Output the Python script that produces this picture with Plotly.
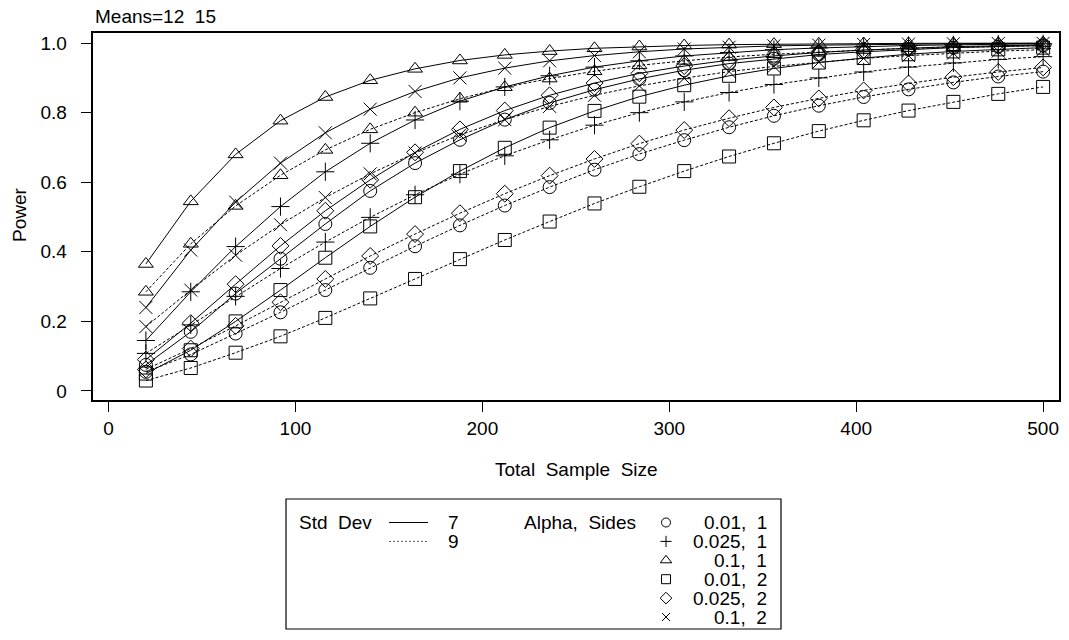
import plotly.graph_objects as go

# ---------------- data ----------------
sample_size = [20, 44, 68, 92, 116, 140, 164, 188, 212, 236, 260, 284, 308, 332, 356, 380, 404, 428, 452, 476, 500]

# Std Dev = 7 (solid)
sd7_a001_s1 = [0.075, 0.170, 0.280, 0.380, 0.480, 0.575, 0.655, 0.722, 0.780, 0.828, 0.866, 0.897, 0.922, 0.941, 0.955, 0.967, 0.975, 0.982, 0.987, 0.990, 0.993]
sd7_a0025_s1 = [0.145, 0.285, 0.415, 0.530, 0.630, 0.712, 0.779, 0.833, 0.874, 0.906, 0.931, 0.949, 0.963, 0.973, 0.981, 0.986, 0.990, 0.993, 0.995, 0.997, 0.998]
sd7_a01_s1 = [0.365, 0.545, 0.680, 0.777, 0.845, 0.893, 0.926, 0.950, 0.966, 0.977, 0.985, 0.990, 0.993, 0.9956, 0.997, 0.998, 0.9988, 0.9992, 0.9995, 0.9997, 0.9998]
sd7_a001_s2 = [0.050, 0.117, 0.200, 0.290, 0.383, 0.473, 0.557, 0.632, 0.699, 0.757, 0.805, 0.846, 0.879, 0.906, 0.927, 0.944, 0.957, 0.968, 0.976, 0.982, 0.987]
sd7_a0025_s2 = [0.090, 0.195, 0.307, 0.417, 0.518, 0.607, 0.686, 0.752, 0.806, 0.850, 0.885, 0.913, 0.934, 0.951, 0.963, 0.973, 0.980, 0.986, 0.990, 0.992, 0.995]
sd7_a01_s2 = [0.240, 0.405, 0.543, 0.655, 0.742, 0.810, 0.861, 0.900, 0.928, 0.949, 0.964, 0.975, 0.983, 0.988, 0.992, 0.994, 0.996, 0.997, 0.998, 0.9988, 0.9992]

# Std Dev = 9 (dashed)
sd9_a001_s1 = [0.055, 0.105, 0.165, 0.226, 0.290, 0.354, 0.416, 0.476, 0.533, 0.586, 0.636, 0.681, 0.721, 0.758, 0.791, 0.820, 0.845, 0.867, 0.887, 0.904, 0.918]
sd9_a0025_s1 = [0.108, 0.190, 0.272, 0.352, 0.428, 0.499, 0.564, 0.623, 0.676, 0.722, 0.764, 0.800, 0.831, 0.858, 0.881, 0.900, 0.917, 0.931, 0.943, 0.953, 0.961]
sd9_a01_s1 = [0.285, 0.423, 0.532, 0.620, 0.693, 0.752, 0.800, 0.840, 0.873, 0.898, 0.919, 0.936, 0.949, 0.960, 0.968, 0.975, 0.980, 0.985, 0.988, 0.9907, 0.9928]
sd9_a001_s2 = [0.030, 0.066, 0.110, 0.157, 0.210, 0.266, 0.322, 0.379, 0.434, 0.487, 0.539, 0.587, 0.632, 0.674, 0.712, 0.747, 0.778, 0.806, 0.831, 0.854, 0.874]
sd9_a0025_s2 = [0.062, 0.122, 0.187, 0.255, 0.322, 0.388, 0.451, 0.511, 0.567, 0.619, 0.667, 0.711, 0.750, 0.784, 0.815, 0.841, 0.864, 0.884, 0.902, 0.917, 0.930]
sd9_a01_s2 = [0.185, 0.290, 0.390, 0.478, 0.556, 0.624, 0.684, 0.736, 0.780, 0.818, 0.850, 0.877, 0.899, 0.918, 0.933, 0.945, 0.956, 0.964, 0.971, 0.977, 0.981]

alpha_sides_labels = ["0.01, 1", "0.025, 1", "0.1, 1", "0.01, 2", "0.025, 2", "0.1, 2"]
std_dev_labels = ["7", "9"]
x_ticks = [0, 100, 200, 300, 400, 500]
y_ticks = [0, 0.2, 0.4, 0.6, 0.8, 1.0]
y_tick_text = ["0", "0.2", "0.4", "0.6", "0.8", "1.0"]

# ---------------- styling ----------------
FONT = "Liberation Sans, Arial, Helvetica, sans-serif"
FS = 19
symbols = ["circle-open", "cross-thin-open", "triangle-up-open", "square-open", "diamond-open", "x-thin-open"]
sizes = [13, 13, 13, 13, 13, 13]
legend_sizes = [9, 8, 10, 9, 9, 8]
dashes = ["solid", "3px,2px"]

sd7 = [sd7_a001_s1, sd7_a0025_s1, sd7_a01_s1, sd7_a001_s2, sd7_a0025_s2, sd7_a01_s2]
sd9 = [sd9_a001_s1, sd9_a0025_s1, sd9_a01_s1, sd9_a001_s2, sd9_a0025_s2, sd9_a01_s2]

fig = go.Figure()

for gi, group in enumerate([sd7, sd9]):
    for si, ys in enumerate(group):
        fig.add_trace(go.Scatter(
            x=sample_size, y=ys, mode="lines+markers",
            line=dict(color="black", width=1, dash=dashes[gi]),
            marker=dict(symbol=symbols[si], size=sizes[si], color="black",
                        line=dict(color="black", width=1)),
            showlegend=False, hoverinfo="skip",
        ))

# ---------------- geometry (pixels) ----------------
W, H = 1069, 640
ML, MR, MT, MB = 93, 10, 33, 4
PW = W - ML - MR
PH = H - MT - MB
plot_bottom_px = 400
leg_top_px = 495


def py(p):
    return (H - MB - p) / PH


def px(p):
    return (p - ML) / PW


# legend on auxiliary pixel axes
row_y = [522.5, 541.4, 560.3, 579.2, 598.1, 617.0]
fig.add_trace(go.Scatter(x=[389, 428], y=[row_y[0], row_y[0]], mode="lines",
                         line=dict(color="black", width=1), xaxis="x2", yaxis="y2",
                         showlegend=False, hoverinfo="skip"))
fig.add_trace(go.Scatter(x=[389, 428], y=[row_y[1], row_y[1]], mode="lines",
                         line=dict(color="#555", width=1, dash="2px,2px"), xaxis="x2", yaxis="y2",
                         showlegend=False, hoverinfo="skip"))
for i, lab in enumerate(alpha_sides_labels):
    fig.add_trace(go.Scatter(x=[666], y=[row_y[i]], mode="markers",
                             marker=dict(symbol=symbols[i], size=legend_sizes[i], color="black",
                                         line=dict(color="black", width=1)),
                             xaxis="x2", yaxis="y2", showlegend=False, hoverinfo="skip"))

txt = dict(family=FONT, size=FS, color="black")
annotations = []
annotations.append(dict(text="Means=12  15", x=px(93), y=py(16), xref="paper", yref="paper",
                        xanchor="left", yanchor="middle", showarrow=False, font=txt))
annotations.append(dict(text="Power", x=px(20), y=py(215), xref="paper", yref="paper",
                        xanchor="center", yanchor="middle", textangle=-90, showarrow=False, font=txt))
annotations.append(dict(text="Total  Sample  Size", x=px(576), y=py(470), xref="paper", yref="paper",
                        xanchor="center", yanchor="middle", showarrow=False, font=txt))
annotations.append(dict(text="Std  Dev", x=297, y=row_y[0], xref="x2", yref="y2", xanchor="left",
                        yanchor="middle", showarrow=False, font=txt))
for i, lab in enumerate(std_dev_labels):
    annotations.append(dict(text=lab, x=446, y=row_y[i], xref="x2", yref="y2", xanchor="left",
                            yanchor="middle", showarrow=False, font=txt))
annotations.append(dict(text="Alpha,  Sides", x=522, y=row_y[0], xref="x2", yref="y2", xanchor="left",
                        yanchor="middle", showarrow=False, font=txt))
for i, lab in enumerate(alpha_sides_labels):
    annotations.append(dict(text=lab.replace(" ", "  "), x=769, y=row_y[i], xref="x2", yref="y2",
                            xanchor="right", yanchor="middle", showarrow=False, font=txt))

shapes = [dict(type="rect", xref="x2", yref="y2", x0=286, x1=781, y0=499, y1=629,
               line=dict(color="black", width=1.2), fillcolor="rgba(0,0,0,0)")]

NBSP = "\u00a0"
fig.update_layout(
    template="none",
    width=W, height=H,
    margin=dict(l=ML, r=MR, t=MT, b=MB, pad=0),
    paper_bgcolor="white", plot_bgcolor="white",
    font=txt,
    xaxis=dict(range=[-8.3, 508.5], tickvals=x_ticks, ticks="outside", ticklen=10, tickwidth=1,
               tickcolor="black", showline=True, linecolor="black", linewidth=1.5, mirror=True,
               showgrid=False, zeroline=False, automargin=False, ticklabeloverflow="allow",
               tickfont=txt, anchor="y", domain=[0, 1]),
    yaxis=dict(range=[-0.026, 1.029], tickvals=y_ticks,
               ticktext=[t + NBSP * 2 for t in y_tick_text], ticks="outside",
               ticklen=10, tickwidth=1, tickcolor="black", showline=True, linecolor="black",
               linewidth=1.5, mirror=True, showgrid=False, zeroline=False,
               automargin=False, ticklabeloverflow="allow",
               tickfont=txt, anchor="x", domain=[py(plot_bottom_px), 1]),
    xaxis2=dict(range=[ML, W - MR], domain=[0, 1], anchor="y2", visible=False, fixedrange=True,
                automargin=False),
    yaxis2=dict(range=[H - MB, leg_top_px], domain=[0, py(leg_top_px)], anchor="x2",
                visible=False, fixedrange=True, automargin=False),
    annotations=annotations,
    shapes=shapes,
)

fig.write_html("out.html", config={"displayModeBar": False},
               post_script="document.body.style.margin='0';document.body.style.overflow='hidden';")
